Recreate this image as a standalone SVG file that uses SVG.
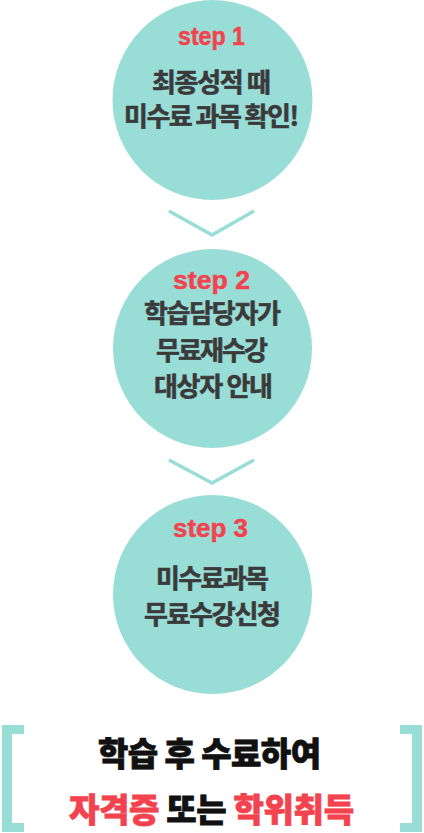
<svg xmlns="http://www.w3.org/2000/svg" width="424" height="833" viewBox="0 0 424 833">
<style>
.circle{fill:#99ddd7}
.step{font-family:"Liberation Sans",Arial,sans-serif;font-weight:700;font-size:25px;fill:#f2434f;stroke:#f2434f;stroke-width:0.5;text-anchor:middle}
.ko{font-family:"Noto Sans CJK KR","Noto Sans",sans-serif;font-weight:700;font-size:26px;fill:#3a3a3a;stroke:#3a3a3a;stroke-width:0.6;text-anchor:middle}
.big{font-family:"Noto Sans CJK KR","Noto Sans",sans-serif;font-weight:900;font-size:33px;fill:#111111;stroke:#111111;stroke-width:0.8;text-anchor:middle}
.red{fill:#f2434f;stroke:#f2434f}
.chev{fill:none;stroke:#99ddd7;stroke-width:3.5}
.bracket{fill:#99ddd7}
</style>
<rect width="424" height="833" fill="#ffffff"/>
<g id="connectors">
<polyline class="chev" points="169,211 212,235 254,211"/>
<polyline class="chev" points="169,460 212,483 254,460"/>
</g>
<g id="step1">
<circle class="circle" cx="212.5" cy="100" r="100"/>
<text class="step" x="211.5" y="45" textLength="67" lengthAdjust="spacingAndGlyphs">step 1</text>
<text class="ko" x="211.5" y="92" textLength="119" lengthAdjust="spacing">최종성적 때</text>
<text class="ko" x="211.5" y="126" textLength="175" lengthAdjust="spacing">미수료 과목 확인!</text>
</g>
<g id="step2">
<circle class="circle" cx="212.5" cy="348.5" r="99.5"/>
<text class="step" x="211.5" y="289" textLength="77" lengthAdjust="spacingAndGlyphs">step 2</text>
<text class="ko" x="212.5" y="323" textLength="137" lengthAdjust="spacing">학습담당자가</text>
<text class="ko" x="212" y="360" textLength="112" lengthAdjust="spacing">무료재수강</text>
<text class="ko" x="213.5" y="396" textLength="119" lengthAdjust="spacing">대상자 안내</text>
</g>
<g id="step3">
<circle class="circle" cx="212.5" cy="594.5" r="99.5"/>
<text class="step" x="210.5" y="537" textLength="75" lengthAdjust="spacingAndGlyphs">step 3</text>
<text class="ko" x="212.5" y="588" textLength="113" lengthAdjust="spacing">미수료과목</text>
<text class="ko" x="212.5" y="624" textLength="137" lengthAdjust="spacing">무료수강신청</text>
</g>
<g id="result">
<path class="bracket" d="M24,725 H2 V832 H24 V823 H12 V734 H24 Z"/>
<path class="bracket" d="M400,725 H422 V832 H400 V823 H412 V734 H400 Z"/>
<text class="big" x="209.5" y="766" textLength="223" lengthAdjust="spacing">학습 후 수료하여</text>
<text class="big" x="211.5" y="822" textLength="285" lengthAdjust="spacing"><tspan class="red">자격증</tspan> 또는 <tspan class="red">학위취득</tspan></text>
</g>
</svg>
